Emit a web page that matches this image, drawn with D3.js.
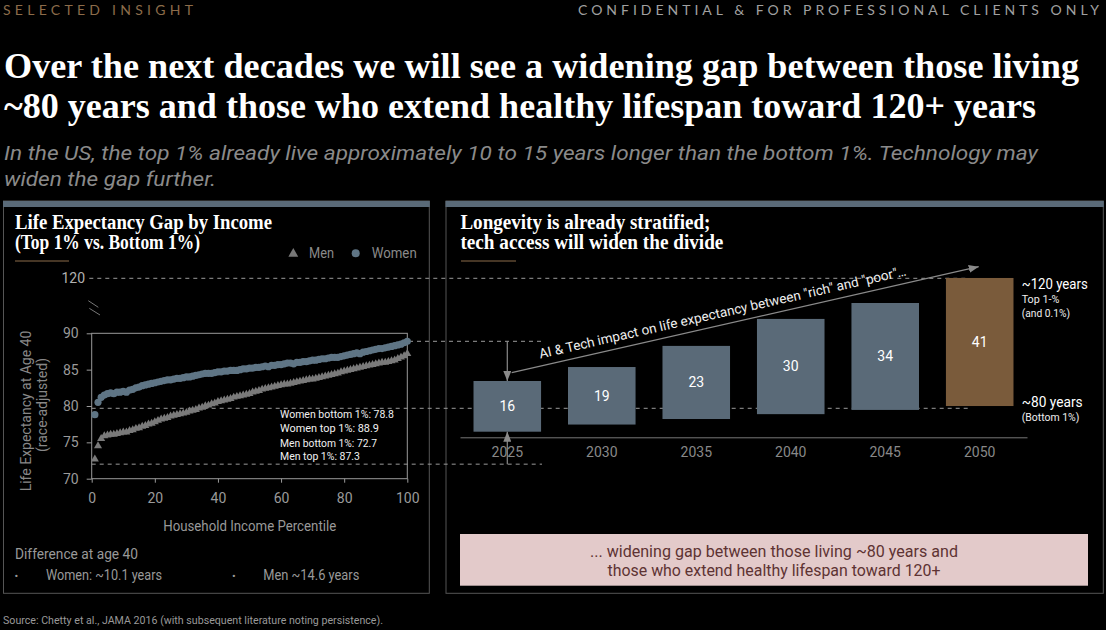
<html>
<head>
<meta charset="utf-8">
<script src="https://cdn.jsdelivr.net/npm/d3@7"></script>
<style>
body { margin: 0; background: #000; }
text { font-family: Roboto, "Liberation Sans", sans-serif; }
</style>
</head>
<body>
<svg id="page"></svg>
<script>

// ---- data ----
var percentiles = d3.range(1, 101);
var womenLE = [
  78.8, 80.5, 81.2, 81.5, 81.7, 81.8, 81.7, 81.9, 81.9, 82.0,
  81.9, 82.2, 82.3, 82.5, 82.6, 82.8, 82.9, 83.0, 83.1, 83.2,
  83.3, 83.4, 83.5, 83.6, 83.6, 83.7, 83.8, 83.8, 83.9, 84.0,
  84.0, 84.1, 84.2, 84.3, 84.4, 84.5, 84.5, 84.5, 84.6, 84.7,
  84.7, 84.8, 84.8, 84.9, 84.9, 84.9, 85.0, 85.1, 85.1, 85.2,
  85.2, 85.3, 85.3, 85.4, 85.5, 85.4, 85.6, 85.6, 85.7, 85.7,
  85.8, 85.9, 85.9, 85.8, 86.0, 86.0, 86.1, 86.1, 86.2, 86.3,
  86.3, 86.4, 86.5, 86.5, 86.6, 86.7, 86.7, 86.7, 86.8, 86.9,
  87.0, 87.1, 87.2, 87.3, 87.2, 87.4, 87.5, 87.6, 87.7, 87.8,
  87.9, 87.9, 88.0, 88.1, 88.2, 88.3, 88.4, 88.5, 88.7, 88.9
];
var menLE = [
  72.7, 74.5, 75.5, 75.9, 76.0, 76.1, 76.1, 76.2, 76.3, 76.4,
  76.4, 76.6, 76.7, 76.9, 77.0, 77.2, 77.3, 77.5, 77.6, 77.8,
  78.0, 78.2, 78.3, 78.4, 78.6, 78.7, 78.8, 78.9, 79.0, 79.1,
  79.3, 79.4, 79.5, 79.7, 79.8, 80.0, 80.1, 80.3, 80.4, 80.6,
  80.7, 80.8, 80.9, 81.0, 81.2, 81.3, 81.4, 81.5, 81.6, 81.7,
  81.9, 82.0, 82.1, 82.3, 82.4, 82.5, 82.6, 82.7, 82.8, 82.9,
  83.0, 83.0, 83.1, 83.2, 83.3, 83.4, 83.5, 83.6, 83.7, 83.7,
  83.8, 83.9, 84.0, 84.1, 84.2, 84.3, 84.4, 84.5, 84.7, 84.8,
  84.9, 85.0, 85.1, 85.2, 85.3, 85.4, 85.5, 85.6, 85.7, 85.8,
  85.9, 86.0, 86.0, 86.1, 86.2, 86.3, 86.5, 86.7, 86.9, 87.2
];
var leTicksY = [70, 75, 80, 85, 90];
var leTicksX = [0, 20, 40, 60, 80, 100];

var years = ["2025", "2030", "2035", "2040", "2045", "2050"];
var gapLabels = [16, 19, 23, 30, 34, 41];
var barLow = [72.8, 75.0, 76.7, 78.2, 79.5, 80.7];
var barHigh = [88.4, 92.7, 99.2, 107.5, 112.4, 120.1];

var annotations = ["Women bottom 1%: 78.8", "Women top 1%: 88.9", "Men bottom 1%: 72.7", "Men top 1%: 87.3"];

// ---- helpers ----
var svg = d3.select("#page").attr("width", 1106).attr("height", 630);
svg.append("rect").attr("width", 1106).attr("height", 630).attr("fill", "#000");

function fit(sel, w, adj) {
  sel.each(function() {
    var n = this.getComputedTextLength();
    if (w && Math.abs(n - w) > 0.5) {
      d3.select(this).attr("textLength", w).attr("lengthAdjust", adj || "spacingAndGlyphs");
    }
  });
  return sel;
}
function label(x, y, str, o) {
  o = o || {};
  var t = svg.append("text")
    .attr("x", x).attr("y", y)
    .attr("fill", o.fill || "#999")
    .style("font-size", (o.size || 14) + "px")
    .style("text-anchor", o.anchor || "start")
    .text(str);
  if (o.family) t.style("font-family", o.family);
  if (o.weight) t.style("font-weight", o.weight);
  if (o.italic) t.style("font-style", "italic");
  fit(t, o.w, o.adj);
  return t;
}
var serif = '"Liberation Serif", "DejaVu Serif", serif';

// ---- header ----
label(3, 15.3, "SELECTED INSIGHT", {size: 14, fill: "#8c6c4a", family: "Lato", w: 190, adj: "spacing"});
label(578, 15.3, "CONFIDENTIAL & FOR PROFESSIONAL CLIENTS ONLY", {size: 14, fill: "#a0a0a0", family: "Lato", w: 521, adj: "spacing"});

label(4, 78.3, "Over the next decades we will see a widening gap between those living", {size: 35, fill: "#fff", family: serif, weight: "bold", w: 1075});
label(4, 118.3, "~80 years and those who extend healthy lifespan toward 120+ years", {size: 35, fill: "#fff", family: serif, weight: "bold", w: 1032});

label(4, 160, "In the US, the top 1% already live approximately 10 to 15 years longer than the bottom 1%. Technology may", {size: 20, fill: "#8a8a8a", italic: true, w: 1034});
label(4, 185.5, "widen the gap further.", {size: 20, fill: "#8a8a8a", italic: true, w: 212});

// ---- panels ----
[[3.5, 429.3], [446, 1103.3]].forEach(function(p) {
  svg.append("rect").attr("x", p[0]).attr("y", 201).attr("width", p[1] - p[0]).attr("height", 392.3)
    .attr("fill", "none").attr("stroke", "#555").attr("stroke-width", 1);
  svg.append("rect").attr("x", p[0] - 0.5).attr("y", 201).attr("width", p[1] - p[0] + 1).attr("height", 6)
    .attr("fill", "#5a6a78");
});

// ---- scales ----
var xL = d3.scaleLinear().domain([0, 100]).range([91.7, 407.3]);
var yL = d3.scaleLinear().domain([70, 90]).range([478.7, 333.3]);
var yR = d3.scaleLinear().domain([80, 120]).range([408.3, 278.3]);
var xR = d3.scaleBand().domain(years).range([460, 1027]).paddingInner(0.285).paddingOuter(0.143);

// ---- left panel ----
label(15, 228.5, "Life Expectancy Gap by Income", {size: 20, fill: "#fff", family: serif, weight: "bold", w: 257});
label(15, 248.5, "(Top 1% vs. Bottom 1%)", {size: 20, fill: "#fff", family: serif, weight: "bold", w: 185});
svg.append("line").attr("x1", 15).attr("x2", 69).attr("y1", 261).attr("y2", 261).attr("stroke", "#8c6c4a").attr("stroke-width", 1.2);

// legend
svg.append("path").attr("d", d3.symbol().type(d3.symbolTriangle).size(42)())
  .attr("transform", "translate(293.3,253.8)").attr("fill", "#777");
label(309, 258.3, "Men", {size: 14.5, fill: "#8a8a8a", w: 25});
svg.append("circle").attr("cx", 355.7).attr("cy", 253.3).attr("r", 4).attr("fill", "#5f7585");
label(371.7, 258.3, "Women", {size: 14.5, fill: "#8a8a8a", w: 45});

// dashed reference lines (drawn under marks)
var dash = svg.append("g").attr("stroke", "#9a9a9a").attr("stroke-width", 1).attr("stroke-dasharray", "4,4");
dash.append("line").attr("x1", 89.3).attr("x2", 968).attr("y1", yR(120)).attr("y2", yR(120));
dash.append("line").attr("x1", 409).attr("x2", 543).attr("y1", yL(88.9)).attr("y2", yL(88.9));
dash.append("line").attr("x1", xL(0)).attr("x2", 968).attr("y1", yR(80)).attr("y2", yR(80));
dash.append("line").attr("x1", xL(0)).attr("x2", 542).attr("y1", yL(72)).attr("y2", yL(72));

// frame + axes
svg.append("rect").attr("x", xL(0)).attr("y", yL(90)).attr("width", xL(100) - xL(0)).attr("height", yL(70) - yL(90))
  .attr("fill", "none").attr("stroke", "#9a9a9a").attr("stroke-width", 1);

var gy = svg.append("g").attr("transform", "translate(" + xL(0) + ",0)")
  .call(d3.axisLeft(yL).tickValues(leTicksY).tickSize(5).tickPadding(8));
var gx = svg.append("g").attr("transform", "translate(0," + yL(70) + ")")
  .call(d3.axisBottom(xL).tickValues(leTicksX).tickSize(4).tickPadding(10));
[gy, gx].forEach(function(g) {
  g.select(".domain").remove();
  g.selectAll("line").attr("stroke", "#9a9a9a");
  g.selectAll("text").attr("fill", "#9a9a9a").style("font-size", "14px").style("font-family", "Roboto");
});

label(85, yR(120) + 5, "120", {size: 14, fill: "#b0b0b0", anchor: "end"});
svg.append("line").attr("x1", 88.3).attr("y1", 300.7).attr("x2", 98.3).attr("y2", 307.3).attr("stroke", "#777");
svg.append("line").attr("x1", 89.3).attr("y1", 308.3).attr("x2", 100).attr("y2", 315).attr("stroke", "#777");

svg.append("text").attr("transform", "translate(30.5,411) rotate(-90)")
  .style("text-anchor", "middle").style("font-size", "14px").attr("fill", "#888")
  .text("Life Expectancy at Age 40");
svg.append("text").attr("transform", "translate(47,405) rotate(-90)")
  .style("text-anchor", "middle").style("font-size", "14px").attr("fill", "#888")
  .text("(race-adjusted)");
label(249.7, 531, "Household Income Percentile", {size: 14.5, fill: "#999", anchor: "middle", w: 173});

// scatter
svg.append("g").selectAll("path").data(menLE).enter().append("path")
  .attr("d", d3.symbol().type(d3.symbolTriangle).size(28)())
  .attr("transform", function(d, i) { return "translate(" + xL(percentiles[i]) + "," + yL(d) + ")"; })
  .attr("fill", "#7a7a7a");
svg.append("g").selectAll("circle").data(womenLE).enter().append("circle")
  .attr("cx", function(d, i) { return xL(percentiles[i]); })
  .attr("cy", function(d) { return yL(d); })
  .attr("r", 3.6)
  .attr("fill", "#5f7585");

var annY = [418.3, 431.7, 447.3, 460];
var annW = [114, 99, 97, 80];
annotations.forEach(function(a, i) {
  label(280, annY[i], a, {size: 11.5, fill: "#f0f0f0", w: annW[i]});
});

label(15, 559.3, "Difference at age 40", {size: 14.5, fill: "#999", w: 123});
label(14.5, 580, "•", {size: 11, fill: "#999"});
label(46, 580.3, "Women: ~10.1 years", {size: 14, fill: "#999", w: 116});
label(232, 580, "•", {size: 11, fill: "#999"});
label(263.3, 580.3, "Men ~14.6 years", {size: 14, fill: "#999", w: 96});

label(3, 624, "Source: Chetty et al., JAMA 2016 (with subsequent literature noting persistence).", {size: 11, fill: "#999", w: 380});

// ---- right panel ----
label(460.4, 228.5, "Longevity is already stratified;", {size: 20, fill: "#fff", family: serif, weight: "bold", w: 250});
label(460.4, 249, "tech access will widen the divide", {size: 20, fill: "#fff", family: serif, weight: "bold", w: 263});
svg.append("line").attr("x1", 461).attr("x2", 516).attr("y1", 261).attr("y2", 261).attr("stroke", "#8c6c4a").attr("stroke-width", 1.2);

var defs = svg.append("defs");
defs.append("marker").attr("id", "arr").attr("viewBox", "0 0 10 8").attr("refX", 10).attr("refY", 4)
  .attr("markerWidth", 10).attr("markerHeight", 8).attr("markerUnits", "userSpaceOnUse").attr("orient", "auto")
  .append("path").attr("d", "M0,0L10,4L0,8z").attr("fill", "#8a8a8a");

svg.append("g").selectAll("rect").data(years).enter().append("rect")
  .attr("x", function(d) { return xR(d); })
  .attr("y", function(d, i) { return yR(barHigh[i]); })
  .attr("width", xR.bandwidth())
  .attr("height", function(d, i) { return yR(barLow[i]) - yR(barHigh[i]); })
  .attr("fill", function(d, i) { return i === years.length - 1 ? "#7a5b3b" : "#5a6a78"; });

svg.append("g").selectAll("text").data(years).enter().append("text")
  .attr("x", function(d) { return xR(d) + xR.bandwidth() / 2; })
  .attr("y", function(d, i) { return yR((barLow[i] + barHigh[i]) / 2); })
  .attr("dy", "0.35em")
  .style("text-anchor", "middle").style("font-size", "14px").attr("fill", "#fff")
  .text(function(d, i) { return gapLabels[i]; });

var gr = svg.append("g").attr("transform", "translate(0,437.3)")
  .call(d3.axisBottom(xR).tickSize(0).tickSizeOuter(0).tickPadding(9.5));
gr.select(".domain").attr("stroke", "#777");
gr.selectAll("text").attr("fill", "#888").style("font-size", "14px").style("font-family", "Roboto");

// arrows
var cx0 = xR(years[0]) + xR.bandwidth() / 2;
svg.append("line").attr("x1", cx0).attr("x2", cx0).attr("y1", yL(88.9)).attr("y2", yR(barHigh[0]))
  .attr("stroke", "#8a8a8a").attr("stroke-width", 1.2).attr("marker-end", "url(#arr)");
svg.append("line").attr("x1", cx0).attr("x2", cx0).attr("y1", yL(72)).attr("y2", yR(barLow[0]))
  .attr("stroke", "#8a8a8a").attr("stroke-width", 1.2).attr("marker-end", "url(#arr)");

var a0 = [cx0 + 4.4, yR(barHigh[0]) - 8.3];
var a1 = [xR(years[5]) + xR.bandwidth() / 2 - 1, yR(120) - 11.6];
svg.append("line").attr("x1", a0[0]).attr("y1", a0[1]).attr("x2", a1[0]).attr("y2", a1[1])
  .attr("stroke", "#8a8a8a").attr("stroke-width", 1.2).attr("marker-end", "url(#arr)");
var ang = Math.atan2(a1[1] - a0[1], a1[0] - a0[0]) * 180 / Math.PI;
var at = svg.append("g").attr("transform", "translate(" + a0[0] + "," + a0[1] + ") rotate(" + ang + ")")
  .append("text").attr("x", 31).attr("y", -7.5)
  .style("font-size", "13.5px").attr("fill", "#eee")
  .text('AI & Tech impact on life expectancy between "rich" and "poor"\u2026');
fit(at, 376);

label(1021.7, 289, "~120 years", {size: 15, fill: "#fff", w: 66});
label(1021.7, 303.3, "Top 1-%", {size: 11.5, fill: "#eee", w: 37.7});
label(1021.7, 316.5, "(and 0.1%)", {size: 11.5, fill: "#eee", w: 48.3});
label(1021.7, 407.3, "~80 years", {size: 15, fill: "#fff", w: 61});
label(1021.7, 420.7, "(Bottom 1%)", {size: 11.5, fill: "#eee", w: 57.7});

svg.append("rect").attr("x", 460).attr("y", 534).attr("width", 628).attr("height", 51.7).attr("fill", "#e3caca");
label(774, 556.7, "... widening gap between those living ~80 years and", {size: 17, fill: "#5e3333", anchor: "middle", w: 368});
label(774, 576, "those who extend healthy lifespan toward 120+", {size: 17, fill: "#5e3333", anchor: "middle", w: 333});

</script>
